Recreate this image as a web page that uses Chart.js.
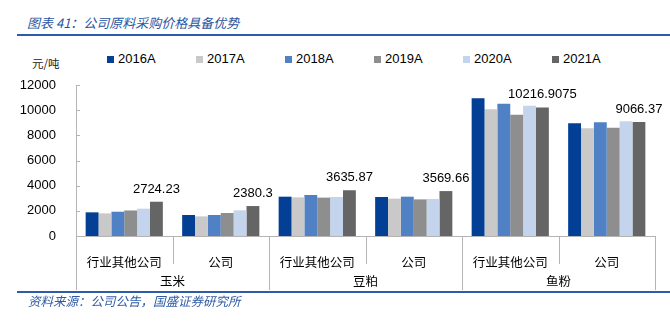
<!DOCTYPE html>
<html>
<head>
<meta charset="utf-8">
<script src="https://cdn.jsdelivr.net/npm/chart.js@4/dist/chart.umd.min.js"></script>
<style>
  html, body { margin: 0; padding: 0; background: #fff; }
  #wrap { position: relative; width: 670px; height: 328px; overflow: hidden; background: #fff; }
  #chart { position: absolute; left: 0; top: 0; }
  .title { position: absolute; left: 27px; top: 15px; font: italic 13px "Noto Sans CJK SC", sans-serif; line-height: 16px; color: #2a56a3; white-space: nowrap; }
  .rule { position: absolute; left: 17px; width: 653px; height: 2px; background: #2e5ca8; }
  .source { position: absolute; left: 28px; top: 293px; font: italic 12.5px "Noto Sans CJK SC", sans-serif; line-height: 16px; color: #2f5ba5; white-space: nowrap; }
  .unit { position: absolute; left: 32px; top: 55px; font: 11.5px "Noto Sans CJK SC", sans-serif; line-height: 16px; color: #222; }
  #legend { position: absolute; left: 107px; top: 51px; display: flex; font: 13px "Liberation Sans", Arial, sans-serif; line-height: 16px; color: #000; }
  #legend .item { width: 89px; display: flex; align-items: center; white-space: nowrap; }
  #legend .box { width: 7px; height: 7px; margin-right: 4px; }
</style>
</head>
<body>
<div id="wrap">
  <div class="title">图表 41：公司原料采购价格具备优势</div>
  <div class="rule" style="top:34px"></div>
  <div id="legend"></div>
  <div class="unit">元/吨</div>
  <canvas id="chart" width="670" height="328"></canvas>
  <div class="rule" style="top:291px"></div>
  <div class="source">资料来源：公司公告，国盛证券研究所</div>
</div>
<script>
// categories
var groups = ['玉米', '豆粕', '鱼粉'];
var subLabels = ['行业其他公司', '公司', '行业其他公司', '公司', '行业其他公司', '公司'];
var years = ['2016A', '2017A', '2018A', '2019A', '2020A', '2021A'];

// series (元/吨)
var s2016 = [1880, 1670, 3125, 3100, 10940, 8960];
var s2017 = [1800, 1560, 3070, 2970, 10070, 8560];
var s2018 = [1930, 1670, 3260, 3125, 10510, 9040];
var s2019 = [2030, 1830, 3050, 2910, 9640, 8610];
var s2020 = [2170, 2040, 3100, 2940, 10360, 9120];
var s2021 = [2724.23, 2380.3, 3635.87, 3569.66, 10216.9075, 9066.37];

var yTicks = [0, 2000, 4000, 6000, 8000, 10000, 12000];

var colors = ['#023f95', '#c9c9c9', '#4f81c4', '#8e8e8e', '#c3d4ec', '#656565'];
var series = [s2016, s2017, s2018, s2019, s2020, s2021];

var axisGray = '#b4b4b4';

// legend
var legendEl = document.getElementById('legend');
years.forEach(function(y, i) {
  var item = document.createElement('div');
  item.className = 'item';
  item.innerHTML = '<span class="box" style="background:' + colors[i] + '"></span>' + y;
  legendEl.appendChild(item);
});

var extras = {
  id: 'extras',
  afterDraw: function(chart) {
    var ctx = chart.ctx;
    var x = chart.scales.x, y = chart.scales.y;
    var n = subLabels.length;
    var step = (x.right - x.left) / n;
    ctx.save();
    ctx.strokeStyle = axisGray;
    ctx.lineWidth = 1;

    // y tick marks (inside)
    yTicks.forEach(function(v) {
      var py = Math.round(y.getPixelForValue(v)) + 0.5;
      ctx.beginPath();
      ctx.moveTo(x.left, py);
      ctx.lineTo(x.left + 4, py);
      ctx.stroke();
    });

    // category separators
    for (var i = 0; i <= n; i++) {
      var bx = Math.round(x.left + i * step) + 0.5;
      var bottom = (i % 2 === 0) ? 290 : 264;
      ctx.beginPath();
      ctx.moveTo(bx, y.bottom);
      ctx.lineTo(bx, bottom);
      ctx.stroke();
    }

    // group labels
    ctx.fillStyle = '#000';
    ctx.font = '12.5px "Noto Sans CJK SC", sans-serif';
    ctx.textAlign = 'center';
    ctx.textBaseline = 'middle';
    groups.forEach(function(g, gi) {
      var cx = x.left + (gi * 2 + 1) * step;
      ctx.fillText(g, cx, 281);
    });

    // data labels on 2021A bars
    var meta = chart.getDatasetMeta(5);
    ctx.font = '13px "Liberation Sans", Arial, sans-serif';
    ctx.textBaseline = 'alphabetic';
    meta.data.forEach(function(bar, i) {
      ctx.fillText(String(s2021[i]), bar.x, bar.y - 9);
    });
    ctx.restore();
  }
};

Chart.defaults.font.family = '"Liberation Sans", Arial, sans-serif';

new Chart('chart', {
  type: 'bar',
  data: {
    labels: subLabels,
    datasets: years.map(function(yr, i) {
      return {
        label: yr,
        data: series[i],
        backgroundColor: colors[i],
        barPercentage: 1,
        categoryPercentage: 0.8
      };
    })
  },
  options: {
    responsive: false,
    animation: false,
    devicePixelRatio: 1,
    layout: { padding: { top: 85, right: 15, left: 0, bottom: 0 } },
    plugins: {
      legend: { display: false },
      tooltip: { enabled: false }
    },
    scales: {
      x: {
        grid: { display: false },
        border: { display: true, color: axisGray },
        ticks: {
          color: '#000',
          font: { family: '"Noto Sans CJK SC", sans-serif', size: 12.5 },
          padding: 11,
          maxRotation: 0,
          autoSkip: false
        },
        afterFit: function(scale) { scale.height = 92; }
      },
      y: {
        min: 0,
        max: 12000,
        grid: { display: false },
        border: { display: true, color: axisGray },
        ticks: {
          stepSize: 2000,
          color: '#000',
          font: { size: 13 },
          padding: 12,
          callback: function(v) { return String(v); }
        },
        afterFit: function(scale) { scale.width = 76; }
      }
    }
  },
  plugins: [extras]
});
</script>
</body>
</html>
